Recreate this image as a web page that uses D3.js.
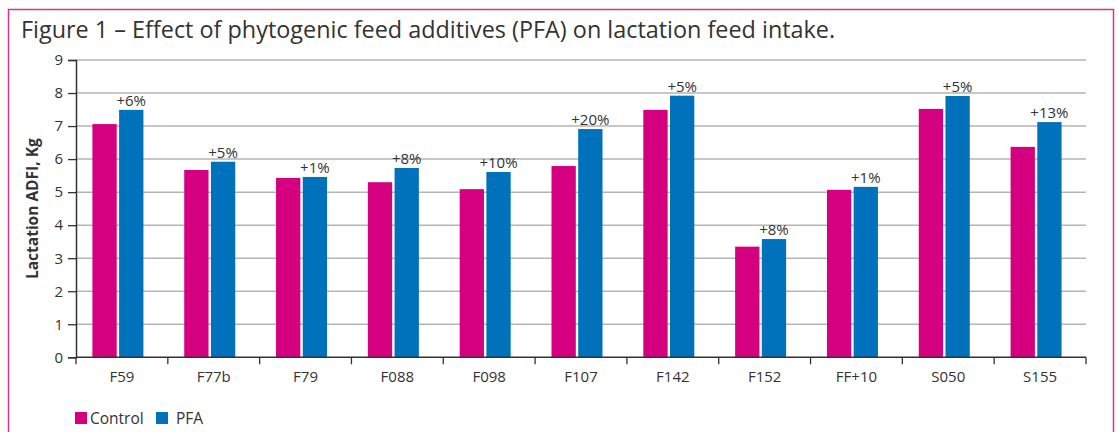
<!DOCTYPE html>
<html>
<head>
<meta charset="utf-8">
<script src="https://cdn.jsdelivr.net/npm/d3@7"></script>
<style>
  body { margin: 0; background: #fff; font-family: "Open Sans", sans-serif; }
  svg { display: block; }
</style>
</head>
<body>
<svg id="main"></svg>
<script>
  // chart data
  const categories = ["F59", "F77b", "F79", "F088", "F098", "F107", "F142", "F152", "FF+10", "S050", "S155"]
  const control = [7.06, 5.67, 5.43, 5.30, 5.09, 5.79, 7.49, 3.35, 5.07, 7.52, 6.37]
  const pfa = [7.49, 5.92, 5.46, 5.73, 5.61, 6.91, 7.92, 3.58, 5.16, 7.91, 7.12]
  const changes = ["+6%", "+5%", "+1%", "+8%", "+10%", "+20%", "+5%", "+8%", "+1%", "+5%", "+13%"]
  const series = ["Control", "PFA"]
  const yTicks = [0, 1, 2, 3, 4, 5, 6, 7, 8, 9]

  const colors = {Control: "#d5007f", PFA: "#0071bb"}

  const width = 1119, height = 432
  const margin = {top: 60, right: 33, bottom: 75, left: 76}

  const svg = d3.select("#main").attr("width", width).attr("height", height)

  // pink frame
  svg.append("rect")
    .attr("x", 8.5).attr("y", 9.5)
    .attr("width", 1105).attr("height", 440)
    .attr("fill", "none")
    .attr("stroke", "#d9358f")
    .attr("stroke-width", 1.5)

  svg.append("text")
    .attr("x", 21).attr("y", 38)
    .attr("font-size", 23.4)
    .attr("fill", "#333")
    .text("Figure 1 – Effect of phytogenic feed additives (PFA) on lactation feed intake.")

  const x = d3.scaleBand()
    .domain(categories)
    .range([margin.left, width - margin.right])

  const y = d3.scaleLinear()
    .domain([0, 9])
    .range([357.3, 60])

  const xs = d3.scaleBand()
    .domain(series)
    .range([0, 51])
    .paddingInner(0.09)

  // bars sit a little left of the category centre
  const groupOffset = d => x(d) + x.bandwidth() / 2 - 29.5

  // gridlines
  svg.append("g")
    .selectAll("line")
    .data(yTicks.filter(d => d > 0))
    .join("line")
    .attr("x1", margin.left).attr("x2", width - margin.right)
    .attr("y1", d => y(d)).attr("y2", d => y(d))
    .attr("stroke", "#b5b5b5")
    .attr("stroke-width", 1.5)

  const rows = categories.map((c, i) => ({cat: c, Control: control[i], PFA: pfa[i], change: changes[i]}))

  const groups = svg.append("g")
    .selectAll("g")
    .data(rows)
    .join("g")
    .attr("transform", d => `translate(${groupOffset(d.cat)},0)`)

  groups.selectAll("rect")
    .data(d => series.map(s => ({s, v: d[s]})))
    .join("rect")
    .attr("x", d => xs(d.s))
    .attr("width", xs.bandwidth())
    .attr("y", d => y(d.v))
    .attr("height", d => y(0) - y(d.v))
    .attr("fill", d => colors[d.s])

  groups.append("text")
    .attr("x", xs("PFA") + xs.bandwidth() / 2)
    .attr("y", d => y(d.PFA) - 4)
    .attr("text-anchor", "middle")
    .attr("font-size", 15)
    .attr("fill", "#333")
    .text(d => d.change)

  // y axis
  const yAxis = svg.append("g")
    .attr("transform", `translate(${margin.left},0)`)
    .call(d3.axisLeft(y).tickValues(yTicks).tickSize(8).tickPadding(5))
  yAxis.select(".domain").attr("stroke", "#333").attr("stroke-width", 1.5)
  yAxis.selectAll(".tick line").attr("stroke", "#333").attr("stroke-width", 1.3)
  yAxis.selectAll(".tick text")
    .attr("font-family", "Open Sans, sans-serif")
    .attr("font-size", 15)
    .attr("fill", "#333")

  // x axis with ticks on the category boundaries
  const xAxis = svg.append("g")
    .attr("transform", `translate(0,${y(0)})`)
  xAxis.append("line")
    .attr("x1", margin.left).attr("x2", width - margin.right)
    .attr("stroke", "#333").attr("stroke-width", 1.5)
  xAxis.selectAll("line.tk")
    .data(categories.concat(["end"]))
    .join("line")
    .attr("class", "tk")
    .attr("x1", (d, i) => margin.left + i * x.step())
    .attr("x2", (d, i) => margin.left + i * x.step())
    .attr("y2", 7)
    .attr("stroke", "#333").attr("stroke-width", 1.3)
  xAxis.selectAll("text")
    .data(categories)
    .join("text")
    .attr("x", d => x(d) + x.bandwidth() / 2)
    .attr("y", 25)
    .attr("text-anchor", "middle")
    .attr("font-size", 15)
    .attr("fill", "#333")
    .text(d => d)

  svg.append("text")
    .attr("transform", `translate(38,${(y(0) + y(9)) / 2}) rotate(-90)`)
    .attr("text-anchor", "middle")
    .attr("font-size", 15.5)
    .attr("font-weight", "bold")
    .attr("fill", "#333")
    .text("Lactation ADFI, Kg")

  // legend
  const legendX = [75, 156]
  const legend = svg.append("g")
    .selectAll("g")
    .data(series)
    .join("g")
    .attr("transform", (d, i) => `translate(${legendX[i]},412)`)
  legend.append("rect")
    .attr("width", 12).attr("height", 12)
    .attr("fill", d => colors[d])
  legend.append("text")
    .attr("x", (d, i) => i === 0 ? 15 : 20)
    .attr("y", 11.5)
    .attr("font-size", 15.5)
    .attr("fill", "#333")
    .text(d => d)
</script>
</body>
</html>
